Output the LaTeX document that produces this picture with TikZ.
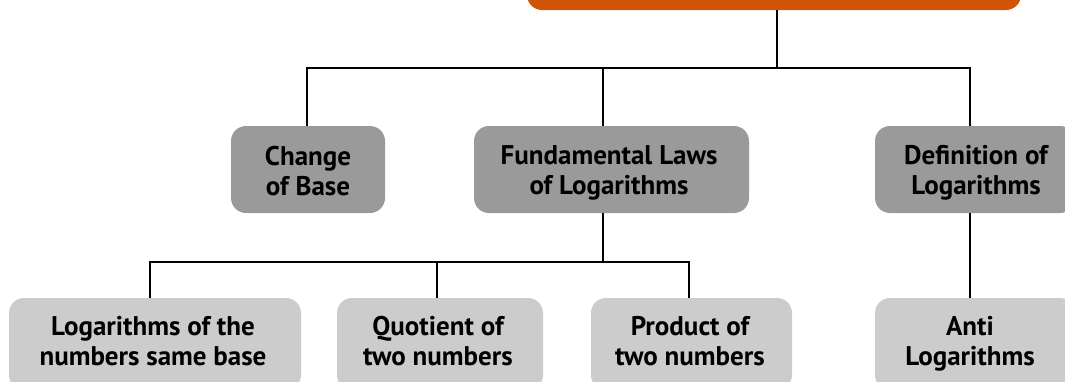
\documentclass[tikz,border=0pt]{standalone}
\usepackage{fontspec}
\setmainfont{PT Sans}
\definecolor{orangebox}{HTML}{D15306}
\definecolor{midgray}{HTML}{9A9A9A}
\definecolor{lightgray}{HTML}{CCCCCC}
\begin{document}
\begin{tikzpicture}[x=1pt,y=-1pt,
  box/.style={rectangle,rounded corners=15pt,inner sep=0pt,align=center,
    font=\fontsize{27}{30}\selectfont\bfseries,text=black},
  midbox/.style={box,fill=midgray},
  lowbox/.style={box,fill=lightgray},
  link/.style={draw=black,line width=1.6pt}]
\useasboundingbox (0,0) rectangle (1065,381);
\begin{scope}
\clip (0,0) rectangle (1065,381);
\node[box,fill=orangebox,minimum width=494pt,minimum height=60pt] (top) at (774,-20) {};
\node[midbox,minimum width=154pt,minimum height=87pt] (chg) at (308,169.5) {};
\node[midbox,minimum width=275pt,minimum height=87pt] (fund) at (611.5,169.5) {};
\node[midbox,minimum width=200pt,minimum height=87pt] (def) at (975,169.5) {};
\node[lowbox,minimum width=292pt,minimum height=92pt] (lg) at (155,344) {};
\node[lowbox,minimum width=206pt,minimum height=92pt] (quo) at (440,344) {};
\node[lowbox,minimum width=201pt,minimum height=92pt] (prod) at (691.5,344) {};
\node[lowbox,minimum width=200pt,minimum height=92pt] (anti) at (975,344) {};
\node[box] (chgt) at (308,174) {\strut Change\\of Base\strut};
\node[box] (fundt) at (609,173) {\strut Fundamental Laws\\of Logarithms\strut};
\node[box] (deft) at (976,173) {\strut Definition of\\Logarithms\strut};
\node[box] (lgt) at (153,344) {\strut Logarithms of the\\numbers same base\strut};
\node[box] (quot) at (438,344) {\strut Quotient of\\two numbers\strut};
\node[box] (prodt) at (690,344) {\strut Product of\\two numbers\strut};
\node[box] (antit) at (970,344) {\strut Anti\\Logarithms\strut};
\end{scope}
\coordinate (t0) at (777,10);
\coordinate (h1) at (777,68);
\coordinate (c1) at (307,126);
\coordinate (f1) at (603,126);
\coordinate (d1) at (970,126);
\coordinate (f2) at (603,213);
\coordinate (h2) at (603,262);
\coordinate (l1) at (150,298);
\coordinate (q1) at (437,298);
\coordinate (p1) at (689,298);
\coordinate (d2) at (970,213);
\coordinate (a1) at (970,298);
\draw[link] (t0) -- (h1);
\draw[link] (c1) |- (h1) -| (d1);
\draw[link] (f1) -- (f1 |- h1);
\draw[link] (f2) -- (h2);
\draw[link] (l1) |- (h2) -| (p1);
\draw[link] (q1) -- (q1 |- h2);
\draw[link] (d2) -- (a1);
\end{tikzpicture}
\end{document}
